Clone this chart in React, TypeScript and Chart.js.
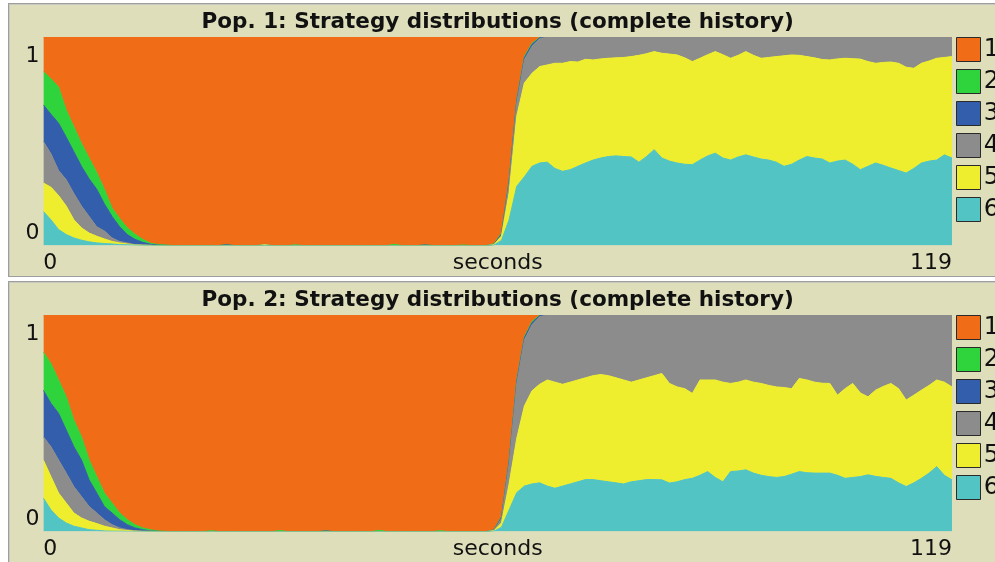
import React, { useEffect, useRef } from 'react';
import { Chart, registerables } from 'chart.js';

Chart.register(...registerables);
Chart.defaults.font.family = 'DejaVu Sans';

// ---------- data ----------
const seconds: number[] = Array.from({ length: 120 }, (_, i) => i);
const xTickValues = [0, 119];
const yTickValues = [0, 1];
const strategyLabels = ['1', '2', '3', '4', '5', '6'];
const strategyColors = ['#f16c16', '#2fd33c', '#335eab', '#8c8c8c', '#eeee2e', '#52c4c4'];
const panelTitles = [
  'Pop. 1: Strategy distributions (complete history)',
  'Pop. 2: Strategy distributions (complete history)',
];
const xAxisTitle = 'seconds';

// Population 1 – share of each strategy per second
const pop1S1 = [
  0.166, 0.20, 0.24, 0.35, 0.43, 0.51, 0.58, 0.65, 0.73, 0.82,
  0.87, 0.915, 0.945, 0.97, 0.988, 0.995, 0.997, 1, 1, 1,
  1, 1, 1, 1, 0.996, 1, 1, 1, 1, 0.996,
  1, 1, 1, 0.996, 1, 1, 1, 1, 1, 1,
  1, 1, 1, 1, 1, 1, 0.994, 1, 1, 1,
  0.997, 1, 1, 1, 1, 0.997, 1, 1, 1, 0.992,
  0.94, 0.684, 0.30, 0.094, 0.03, 0.002, 0, 0, 0, 0,
  0, 0, 0, 0, 0, 0, 0, 0, 0, 0,
  0, 0, 0, 0, 0, 0, 0, 0, 0, 0,
  0, 0, 0, 0, 0, 0, 0, 0, 0, 0,
  0, 0, 0, 0, 0, 0, 0, 0, 0, 0,
  0, 0, 0, 0, 0, 0, 0, 0, 0, 0,
];
const pop1S2 = [
  0.159, 0.17, 0.173, 0.13, 0.12, 0.11, 0.10, 0.08, 0.07, 0.04,
  0.04, 0.032, 0.025, 0.014, 0.005, 0.003, 0.002, 0, 0, 0,
  0, 0, 0, 0, 0, 0, 0, 0, 0, 0,
  0, 0, 0, 0.004, 0, 0, 0, 0, 0, 0,
  0, 0, 0, 0, 0, 0, 0.006, 0, 0, 0,
  0, 0, 0, 0, 0, 0.003, 0, 0, 0, 0.002,
  0.004, 0.005, 0.005, 0.005, 0.005, 0.002, 0, 0, 0, 0,
  0, 0, 0, 0, 0, 0, 0, 0, 0, 0,
  0, 0, 0, 0, 0, 0, 0, 0, 0, 0,
  0, 0, 0, 0, 0, 0, 0, 0, 0, 0,
  0, 0, 0, 0, 0, 0, 0, 0, 0, 0,
  0, 0, 0, 0, 0, 0, 0, 0, 0, 0,
];
const pop1S3 = [
  0.175, 0.19, 0.227, 0.204, 0.20, 0.19, 0.18, 0.18, 0.13, 0.103,
  0.07, 0.04, 0.025, 0.013, 0.005, 0.002, 0.001, 0, 0, 0,
  0, 0, 0, 0, 0.004, 0, 0, 0, 0, 0,
  0, 0, 0, 0, 0, 0, 0, 0, 0, 0,
  0, 0, 0, 0, 0, 0, 0, 0, 0, 0,
  0.003, 0, 0, 0, 0, 0, 0, 0, 0, 0.002,
  0.006, 0.01, 0.01, 0.01, 0.01, 0.004, 0, 0, 0, 0,
  0, 0, 0, 0, 0, 0, 0, 0, 0, 0,
  0, 0, 0, 0, 0, 0, 0, 0, 0, 0,
  0, 0, 0, 0, 0, 0, 0, 0, 0, 0,
  0, 0, 0, 0, 0, 0, 0, 0, 0, 0,
  0, 0, 0, 0, 0, 0, 0, 0, 0, 0,
];
const pop1S4 = [
  0.20, 0.16, 0.12, 0.126, 0.126, 0.105, 0.08, 0.045, 0.038, 0.017,
  0.007, 0.005, 0.002, 0.001, 0.001, 0, 0, 0, 0, 0,
  0, 0, 0, 0, 0, 0, 0, 0, 0, 0,
  0, 0, 0, 0, 0, 0, 0, 0, 0, 0,
  0, 0, 0, 0, 0, 0, 0, 0, 0, 0,
  0, 0, 0, 0, 0, 0, 0, 0, 0, 0,
  0.005, 0.048, 0.065, 0.111, 0.129, 0.134, 0.134, 0.126, 0.126, 0.118,
  0.12, 0.107, 0.11, 0.105, 0.102, 0.10, 0.098, 0.094, 0.088, 0.08,
  0.07, 0.078, 0.082, 0.086, 0.10, 0.118, 0.102, 0.085, 0.07, 0.085,
  0.102, 0.088, 0.07, 0.088, 0.102, 0.098, 0.094, 0.09, 0.086, 0.088,
  0.094, 0.10, 0.108, 0.11, 0.105, 0.102, 0.104, 0.106, 0.118, 0.126,
  0.122, 0.12, 0.126, 0.145, 0.15, 0.126, 0.115, 0.102, 0.098, 0.094,
];
const pop1S5 = [
  0.136, 0.156, 0.163, 0.137, 0.087, 0.059, 0.042, 0.032, 0.022, 0.012,
  0.008, 0.004, 0.001, 0.001, 0, 0, 0, 0, 0, 0,
  0, 0, 0, 0, 0, 0, 0, 0, 0, 0.004,
  0, 0, 0, 0, 0, 0, 0, 0, 0, 0,
  0, 0, 0, 0, 0, 0, 0, 0, 0, 0,
  0, 0, 0, 0, 0, 0, 0, 0, 0, 0.002,
  0.02, 0.129, 0.336, 0.45, 0.446, 0.462, 0.466, 0.504, 0.518, 0.518,
  0.50, 0.497, 0.48, 0.475, 0.471, 0.47, 0.475, 0.481, 0.512, 0.493,
  0.47, 0.502, 0.513, 0.518, 0.51, 0.494, 0.488, 0.485, 0.487, 0.495,
  0.488, 0.487, 0.495, 0.487, 0.483, 0.492, 0.506, 0.53, 0.524, 0.502,
  0.479, 0.48, 0.477, 0.494, 0.49, 0.488, 0.506, 0.53, 0.502, 0.478,
  0.493, 0.508, 0.514, 0.507, 0.48, 0.478, 0.48, 0.488, 0.467, 0.486,
];
const pop1S6 = [
  0.164, 0.124, 0.077, 0.053, 0.037, 0.026, 0.018, 0.013, 0.01, 0.008,
  0.005, 0.004, 0.002, 0.001, 0.001, 0, 0, 0, 0, 0,
  0, 0, 0, 0, 0, 0, 0, 0, 0, 0,
  0, 0, 0, 0, 0, 0, 0, 0, 0, 0,
  0, 0, 0, 0, 0, 0, 0, 0, 0, 0,
  0, 0, 0, 0, 0, 0, 0, 0, 0, 0.002,
  0.025, 0.124, 0.284, 0.33, 0.38, 0.396, 0.40, 0.37, 0.356, 0.364,
  0.38, 0.396, 0.41, 0.42, 0.427, 0.43, 0.427, 0.425, 0.40, 0.427,
  0.46, 0.42, 0.405, 0.396, 0.39, 0.388, 0.41, 0.43, 0.443, 0.42,
  0.41, 0.425, 0.435, 0.425, 0.415, 0.41, 0.40, 0.38, 0.39, 0.41,
  0.427, 0.42, 0.415, 0.396, 0.405, 0.41, 0.39, 0.364, 0.38, 0.396,
  0.385, 0.372, 0.36, 0.348, 0.37, 0.396, 0.405, 0.41, 0.435, 0.42,
];

// Population 2 – share of each strategy per second
const pop2S1 = [
  0.171, 0.224, 0.30, 0.378, 0.485, 0.562, 0.669, 0.746, 0.822, 0.868,
  0.914, 0.945, 0.968, 0.983, 0.991, 0.997, 0.999, 1, 1, 1,
  1, 1, 0.996, 1, 1, 1, 1, 1, 1, 1,
  1, 0.995, 1, 1, 1, 1, 1, 0.997, 1, 1,
  1, 1, 1, 1, 0.994, 1, 1, 1, 1, 1,
  1, 1, 0.996, 1, 1, 1, 1, 1, 1, 0.992,
  0.93, 0.67, 0.30, 0.10, 0.03, 0.001, 0, 0, 0, 0,
  0, 0, 0, 0, 0, 0, 0, 0, 0, 0,
  0, 0, 0, 0, 0, 0, 0, 0, 0, 0,
  0, 0, 0, 0, 0, 0, 0, 0, 0, 0,
  0, 0, 0, 0, 0, 0, 0, 0, 0, 0,
  0, 0, 0, 0, 0, 0, 0, 0, 0, 0,
];
const pop2S2 = [
  0.176, 0.184, 0.154, 0.153, 0.123, 0.107, 0.092, 0.076, 0.062, 0.046,
  0.031, 0.023, 0.015, 0.008, 0.006, 0.002, 0.001, 0, 0, 0,
  0, 0, 0.004, 0, 0, 0, 0, 0, 0, 0,
  0, 0.005, 0, 0, 0, 0, 0, 0, 0, 0,
  0, 0, 0, 0, 0.006, 0, 0, 0, 0, 0,
  0, 0, 0.004, 0, 0, 0, 0, 0, 0, 0.001,
  0.004, 0.005, 0.005, 0.005, 0.005, 0.002, 0, 0, 0, 0,
  0, 0, 0, 0, 0, 0, 0, 0, 0, 0,
  0, 0, 0, 0, 0, 0, 0, 0, 0, 0,
  0, 0, 0, 0, 0, 0, 0, 0, 0, 0,
  0, 0, 0, 0, 0, 0, 0, 0, 0, 0,
  0, 0, 0, 0, 0, 0, 0, 0, 0, 0,
];
const pop2S3 = [
  0.215, 0.20, 0.215, 0.199, 0.184, 0.169, 0.123, 0.092, 0.061, 0.054,
  0.038, 0.023, 0.013, 0.007, 0.002, 0.001, 0, 0, 0, 0,
  0, 0, 0, 0, 0, 0, 0, 0, 0, 0,
  0, 0, 0, 0, 0, 0, 0, 0.003, 0, 0,
  0, 0, 0, 0, 0, 0, 0, 0, 0, 0,
  0, 0, 0, 0, 0, 0, 0, 0, 0, 0.001,
  0.006, 0.01, 0.01, 0.01, 0.01, 0.005, 0, 0, 0, 0,
  0, 0, 0, 0, 0, 0, 0, 0, 0, 0,
  0, 0, 0, 0, 0, 0, 0, 0, 0, 0,
  0, 0, 0, 0, 0, 0, 0, 0, 0, 0,
  0, 0, 0, 0, 0, 0, 0, 0, 0, 0,
  0, 0, 0, 0, 0, 0, 0, 0, 0, 0,
];
const pop2S4 = [
  0.107, 0.138, 0.153, 0.138, 0.122, 0.099, 0.068, 0.049, 0.03, 0.015,
  0.008, 0.004, 0.002, 0.001, 0, 0, 0, 0, 0, 0,
  0, 0, 0, 0, 0, 0, 0, 0, 0, 0,
  0, 0, 0, 0, 0, 0, 0, 0, 0, 0,
  0, 0, 0, 0, 0, 0, 0, 0, 0, 0,
  0, 0, 0, 0, 0, 0, 0, 0, 0, 0.002,
  0.02, 0.095, 0.255, 0.305, 0.305, 0.312, 0.30, 0.31, 0.32, 0.31,
  0.30, 0.29, 0.28, 0.275, 0.28, 0.29, 0.30, 0.31, 0.30, 0.29,
  0.28, 0.27, 0.316, 0.332, 0.34, 0.362, 0.30, 0.30, 0.30, 0.31,
  0.316, 0.31, 0.30, 0.31, 0.316, 0.325, 0.332, 0.335, 0.34, 0.293,
  0.30, 0.31, 0.315, 0.316, 0.37, 0.34, 0.316, 0.36, 0.378, 0.347,
  0.33, 0.316, 0.34, 0.393, 0.37, 0.347, 0.325, 0.30, 0.31, 0.332,
];
const pop2S5 = [
  0.176, 0.153, 0.115, 0.092, 0.061, 0.046, 0.039, 0.031, 0.022, 0.015,
  0.007, 0.004, 0.001, 0, 0.001, 0, 0, 0, 0, 0,
  0, 0, 0, 0, 0, 0, 0, 0, 0, 0,
  0, 0, 0, 0, 0, 0, 0, 0, 0, 0,
  0, 0, 0, 0, 0, 0, 0, 0, 0, 0,
  0, 0, 0, 0, 0, 0, 0, 0, 0, 0.002,
  0.02, 0.12, 0.25, 0.37, 0.43, 0.455, 0.49, 0.49, 0.47, 0.47,
  0.47, 0.47, 0.48, 0.49, 0.49, 0.485, 0.48, 0.46, 0.465, 0.47,
  0.48, 0.491, 0.46, 0.438, 0.42, 0.392, 0.44, 0.423, 0.45, 0.46,
  0.407, 0.41, 0.415, 0.42, 0.424, 0.421, 0.418, 0.411, 0.395, 0.43,
  0.428, 0.42, 0.415, 0.414, 0.37, 0.414, 0.434, 0.386, 0.36, 0.398,
  0.42, 0.438, 0.435, 0.399, 0.405, 0.407, 0.405, 0.40, 0.43, 0.429,
];
const pop2S6 = [
  0.155, 0.101, 0.063, 0.04, 0.025, 0.017, 0.009, 0.006, 0.003, 0.002,
  0.002, 0.001, 0.001, 0.001, 0, 0, 0, 0, 0, 0,
  0, 0, 0, 0, 0, 0, 0, 0, 0, 0,
  0, 0, 0, 0, 0, 0, 0, 0, 0, 0,
  0, 0, 0, 0, 0, 0, 0, 0, 0, 0,
  0, 0, 0, 0, 0, 0, 0, 0, 0, 0.002,
  0.02, 0.10, 0.18, 0.21, 0.22, 0.225, 0.21, 0.20, 0.21, 0.22,
  0.23, 0.24, 0.24, 0.235, 0.23, 0.225, 0.22, 0.23, 0.235, 0.24,
  0.24, 0.239, 0.224, 0.23, 0.24, 0.246, 0.26, 0.277, 0.25, 0.23,
  0.277, 0.28, 0.285, 0.27, 0.26, 0.254, 0.25, 0.254, 0.265, 0.277,
  0.272, 0.27, 0.27, 0.27, 0.26, 0.246, 0.25, 0.254, 0.262, 0.255,
  0.25, 0.246, 0.225, 0.208, 0.225, 0.246, 0.27, 0.30, 0.26, 0.239,
];

const pop1Series = [pop1S1, pop1S2, pop1S3, pop1S4, pop1S5, pop1S6];
const pop2Series = [pop2S1, pop2S2, pop2S3, pop2S4, pop2S5, pop2S6];

// ---------- styling ----------
const BG = '#dedeba';
const TEXT = '#111111';
const FONT = 'DejaVu Sans';

function StackPanel({ title, series, width, height }: { title: string; series: number[][]; width: number; height: number }) {
  const ref = useRef<HTMLCanvasElement>(null);
  useEffect(() => {
    if (!ref.current) return;
    // dataset order: strategy 6 at the bottom of the stack, strategy 1 on top
    const order = [5, 4, 3, 2, 1, 0];
    const datasets = order.map((k, idx) => ({
      label: strategyLabels[k],
      data: series[k].map((v, i) => ({ x: seconds[i], y: v })),
      backgroundColor: strategyColors[k],
      borderColor: strategyColors[k],
      borderWidth: 1,
      pointRadius: 0,
      tension: 0,
      fill: idx === 0 ? 'origin' : '-1',
    }));
    const chart = new Chart(ref.current, {
      type: 'line',
      data: { datasets },
      options: {
        responsive: false,
        animation: false,
        devicePixelRatio: 1,
        events: [],
        layout: { padding: { left: 12.7, right: 0, top: 0, bottom: 0 } },
        plugins: {
          title: {
            display: true,
            text: title,
            fullSize: false,
            color: TEXT,
            font: { family: FONT, size: 21.5, weight: 'bold', lineHeight: 1.2 },
            padding: { top: 5.1, bottom: 2.1 },
          },
          legend: {
            position: 'right',
            align: 'start',
            reverse: true,
            maxWidth: 47,
            title: { display: true, text: '', font: { size: 10, lineHeight: '25.5px' }, padding: 0 },
            labels: {
              usePointStyle: true,
              boxWidth: 17,
              boxHeight: 24,
              padding: 8,
              textAlign: 'right',
              color: TEXT,
              font: { family: FONT, size: 24 },
              generateLabels: (c: any) =>
                Chart.defaults.plugins.legend.labels.generateLabels(c).map((it: any) => ({
                  ...it,
                  pointStyle: 'rect',
                  rotation: 0,
                  strokeStyle: '#2a2a2a',
                  lineWidth: 1,
                })),
            },
          },
          tooltip: { enabled: false },
        },
        scales: {
          x: {
            type: 'linear',
            min: 0,
            max: 119,
            afterBuildTicks: (s: any) => {
              s.ticks = xTickValues.map((v) => ({ value: v }));
            },
            afterFit: (s: any) => {
              s.paddingLeft = 0;
              s.paddingRight = 0;
            },
            grid: { display: false, drawTicks: false },
            border: { display: false },
            ticks: {
              align: 'inner',
              maxRotation: 0,
              autoSkip: false,
              padding: 4,
              color: TEXT,
              font: { family: FONT, size: 22, lineHeight: 1.2 },
              callback: (v: any) => String(v),
            },
            title: {
              display: true,
              text: xAxisTitle,
              color: TEXT,
              font: { family: FONT, size: 22, lineHeight: 1.2 },
              padding: { top: -30.4, bottom: 0 },
            },
          },
          y: {
            stacked: true,
            min: 0,
            max: 1,
            afterBuildTicks: (s: any) => {
              s.ticks = yTickValues.map((v) => ({ value: v }));
            },
            afterFit: (s: any) => {
              s.paddingTop = 0;
              s.paddingBottom = 0;
            },
            grid: { display: false, drawTicks: false },
            border: { display: false },
            ticks: {
              padding: 3.8,
              color: TEXT,
              font: (c: any) => ({
                family: FONT,
                size: 22,
                lineHeight: c.tick && c.tick.value === 1 ? '39px' : '24px',
              }),
              callback: (v: any) => (v === 1 ? ['', '1'] : ['0', '']),
            },
          },
        },
      } as any,
    });
    return () => chart.destroy();
  }, [title, series]);
  return <canvas ref={ref} width={width} height={height} style={{ display: 'block', width, height }} />;
}

export default function App() {
  useEffect(() => {
    document.body.style.margin = '0';
    document.body.style.overflow = 'hidden';
  }, []);
  const panelStyle: React.CSSProperties = {
    position: 'absolute',
    left: 8,
    width: 990,
    border: '1px solid #9e9e9e',
    boxShadow: 'inset 1px 1px 0 #c9c9c0',
    background: BG,
    overflow: 'hidden',
  };
  return (
    <div style={{ position: 'fixed', left: 0, top: 0, width: 995, height: 562, overflow: 'hidden', background: '#ffffff' }}>
      <div style={{ ...panelStyle, top: 3, height: 272 }}>
        <StackPanel title={panelTitles[0]} series={pop1Series} width={990} height={272} />
      </div>
      <div style={{ ...panelStyle, top: 281, height: 281 }}>
        <StackPanel title={panelTitles[1]} series={pop2Series} width={990} height={280} />
      </div>
    </div>
  );
}
